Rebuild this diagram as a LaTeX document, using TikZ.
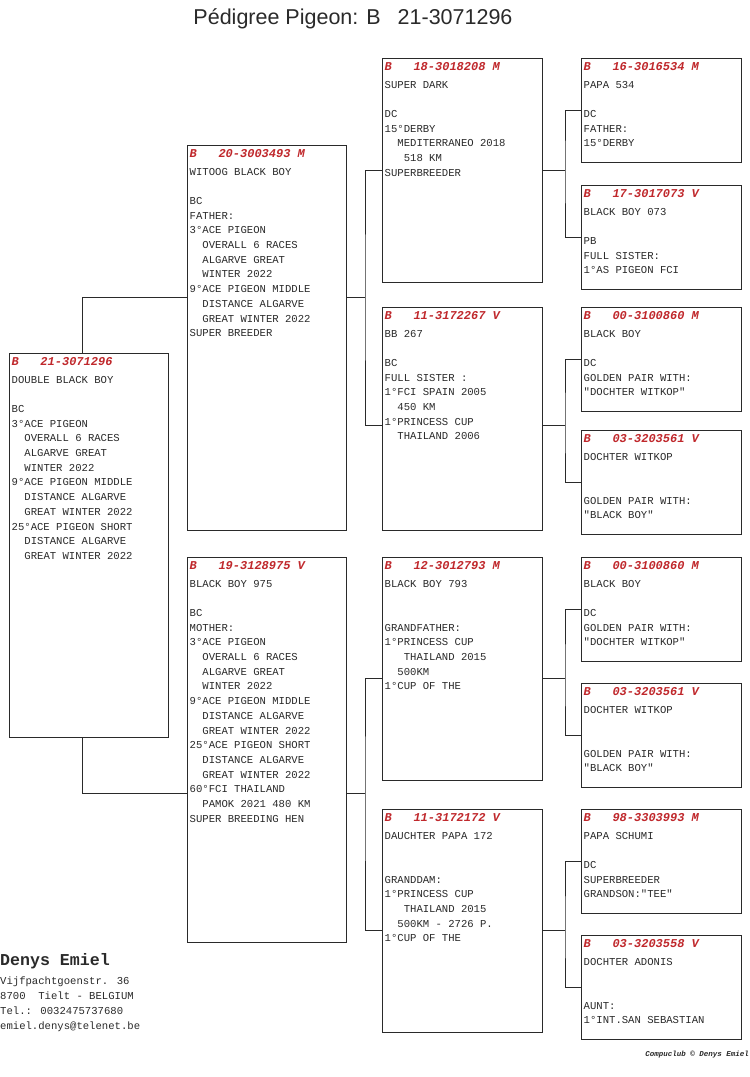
\documentclass[tikz,border=0pt]{standalone}
\usepackage{fontspec}
\setmainfont{Liberation Sans}
\newfontfamily\pmono{Liberation Mono}
\usetikzlibrary{calc}
\definecolor{hdr}{HTML}{C0282C}
\definecolor{ink}{HTML}{2A2A2A}
\newcommand\bodyfont{\pmono\fontsize{10.6}{14.7}\selectfont}
\newcommand\hdrfont{\pmono\bfseries\itshape\fontsize{12}{14}\selectfont}
\newcommand\iib{\mbox{}~~}
\newcommand\iiib{\mbox{}~~~}
\tikzset{
  boxst/.style={draw=ink, line width=0.8pt, rectangle, inner sep=0pt, outer sep=0pt, fill=white},
  hdrst/.style={anchor=base west, inner sep=0pt, font=\hdrfont, text=hdr},
  bodyst/.style={anchor=base west, inner sep=0pt, font=\bodyfont, text=ink},
  conn/.style={draw=ink, line width=0.8pt},
}
\newcommand\pigbox[7]{%
  \node[boxst, minimum width=#4, minimum height=#5, anchor=north west] (#1) at (#2,#3) {};
  \node[hdrst] (#1h) at ($(#1.north west)+(2.5,12)$) {#6};
  \node[bodyst] (#1t) at ($(#1.north west)+(2.5,30)$) {\parbox[t]{152pt}{#7}};
}
\begin{document}
\begin{tikzpicture}[x=1pt,y=-1pt]
\useasboundingbox (0,0) rectangle (750,1077);
\fill[white] (0,0) rectangle (750,1077);

\node[anchor=base, inner sep=0pt, font=\fontsize{21.5}{24}\selectfont, text=ink] (title) at (353,24) {Pédigree Pigeon: B\hspace{17pt}21-3071296};

% generation 1
\pigbox{s}{9}{353}{159}{384}{B~~~21-3071296}{DOUBLE BLACK BOY\\ \mbox{}\\ BC\\ 3°ACE PIGEON\\ \iib OVERALL 6 RACES\\ \iib ALGARVE GREAT\\ \iib WINTER 2022\\ 9°ACE PIGEON MIDDLE\\ \iib DISTANCE ALGARVE\\ \iib GREAT WINTER 2022\\ 25°ACE PIGEON SHORT\\ \iib DISTANCE ALGARVE\\ \iib GREAT WINTER 2022}

% generation 2
\pigbox{f}{187}{145}{159}{385}{B~~~20-3003493 M}{WITOOG BLACK BOY\\ \mbox{}\\ BC\\ FATHER:\\ 3°ACE PIGEON\\ \iib OVERALL 6 RACES\\ \iib ALGARVE GREAT\\ \iib WINTER 2022\\ 9°ACE PIGEON MIDDLE\\ \iib DISTANCE ALGARVE\\ \iib GREAT WINTER 2022\\ SUPER BREEDER}
\pigbox{m}{187}{557}{159}{385}{B~~~19-3128975 V}{BLACK BOY 975\\ \mbox{}\\ BC\\ MOTHER:\\ 3°ACE PIGEON\\ \iib OVERALL 6 RACES\\ \iib ALGARVE GREAT\\ \iib WINTER 2022\\ 9°ACE PIGEON MIDDLE\\ \iib DISTANCE ALGARVE\\ \iib GREAT WINTER 2022\\ 25°ACE PIGEON SHORT\\ \iib DISTANCE ALGARVE\\ \iib GREAT WINTER 2022\\ 60°FCI THAILAND\\ \iib PAMOK 2021 480 KM\\ SUPER BREEDING HEN}

% generation 3
\pigbox{ff}{382}{58}{160}{224}{B~~~18-3018208 M}{SUPER DARK\\ \mbox{}\\ DC\\ 15°DERBY\\ \iib MEDITERRANEO 2018\\ \iiib 518 KM\\ SUPERBREEDER}
\pigbox{fm}{382}{307}{160}{223}{B~~~11-3172267 V}{BB 267\\ \mbox{}\\ BC\\ FULL SISTER :\\ 1°FCI SPAIN 2005\\ \iib 450 KM\\ 1°PRINCESS CUP\\ \iib THAILAND 2006}
\pigbox{mf}{382}{557}{160}{223}{B~~~12-3012793 M}{BLACK BOY 793\\ \mbox{}\\ \mbox{}\\ GRANDFATHER:\\ 1°PRINCESS CUP\\ \iiib THAILAND 2015\\ \iib 500KM\\ 1°CUP OF THE}
\pigbox{mm}{382}{809}{160}{223}{B~~~11-3172172 V}{DAUCHTER PAPA 172\\ \mbox{}\\ \mbox{}\\ GRANDDAM:\\ 1°PRINCESS CUP\\ \iiib THAILAND 2015\\ \iib 500KM - 2726 P.\\ 1°CUP OF THE}

% generation 4
\pigbox{fff}{581}{58}{160}{104}{B~~~16-3016534 M}{PAPA 534\\ \mbox{}\\ DC\\ FATHER:\\ 15°DERBY}
\pigbox{ffm}{581}{185}{160}{104}{B~~~17-3017073 V}{BLACK BOY 073\\ \mbox{}\\ PB\\ FULL SISTER:\\ 1°AS PIGEON FCI}
\pigbox{fmf}{581}{307}{160}{104}{B~~~00-3100860 M}{BLACK BOY\\ \mbox{}\\ DC\\ GOLDEN PAIR WITH:\\ "DOCHTER WITKOP"}
\pigbox{fmm}{581}{430}{160}{104}{B~~~03-3203561 V}{DOCHTER WITKOP\\ \mbox{}\\ \mbox{}\\ GOLDEN PAIR WITH:\\ "BLACK BOY"}
\pigbox{mff}{581}{557}{160}{104}{B~~~00-3100860 M}{BLACK BOY\\ \mbox{}\\ DC\\ GOLDEN PAIR WITH:\\ "DOCHTER WITKOP"}
\pigbox{mfm}{581}{683}{160}{104}{B~~~03-3203561 V}{DOCHTER WITKOP\\ \mbox{}\\ \mbox{}\\ GOLDEN PAIR WITH:\\ "BLACK BOY"}
\pigbox{mmf}{581}{809}{160}{104}{B~~~98-3303993 M}{PAPA SCHUMI\\ \mbox{}\\ DC\\ SUPERBREEDER\\ GRANDSON:"TEE"}
\pigbox{mmm}{581}{935}{160}{104}{B~~~03-3203558 V}{DOCHTER ADONIS\\ \mbox{}\\ \mbox{}\\ AUNT:\\ 1°INT.SAN SEBASTIAN}

% connector points
\coordinate (sT) at ($(s.north west)+(73,0)$);
\coordinate (sB) at ($(s.south west)+(73,0)$);
\coordinate (fL) at ($(f.north west)+(0,152)$);
\coordinate (fR) at ($(f.north east)+(0,152)$);
\coordinate (mL) at ($(m.north west)+(0,236)$);
\coordinate (mR) at ($(m.north east)+(0,236)$);
\coordinate (ffL) at ($(ff.north west)+(0,112)$);
\coordinate (ffR) at ($(ff.north east)+(0,112)$);
\coordinate (fmL) at ($(fm.north west)+(0,118)$);
\coordinate (fmR) at ($(fm.north east)+(0,118)$);
\coordinate (mfL) at ($(mf.north west)+(0,121)$);
\coordinate (mfR) at ($(mf.north east)+(0,121)$);
\coordinate (mmL) at ($(mm.north west)+(0,121)$);
\coordinate (mmR) at ($(mm.north east)+(0,121)$);
\coordinate (fJ) at ($(fR)+(19,0)$);
\coordinate (mJ) at ($(mR)+(19,0)$);
\coordinate (ffJ) at ($(ffR)+(23,0)$);
\coordinate (fmJ) at ($(fmR)+(23,0)$);
\coordinate (mfJ) at ($(mfR)+(23,0)$);
\coordinate (mmJ) at ($(mmR)+(23,0)$);

% connectors
\draw[conn] (sT) |- (fL);
\draw[conn] (sB) |- (mL);
\draw[conn] (fR) -- (fJ);
\draw[conn] (ffL) -| (fJ) |- (fmL);
\draw[conn] (mR) -- (mJ);
\draw[conn] (mfL) -| (mJ) |- (mmL);
\draw[conn] (ffR) -- (ffJ);
\draw[conn] (fff.west) -| (ffJ) |- (ffm.west);
\draw[conn] (fmR) -- (fmJ);
\draw[conn] (fmf.west) -| (fmJ) |- (fmm.west);
\draw[conn] (mfR) -- (mfJ);
\draw[conn] (mff.west) -| (mfJ) |- (mfm.west);
\draw[conn] (mmR) -- (mmJ);
\draw[conn] (mmf.west) -| (mmJ) |- (mmm.west);

% footer
\node[anchor=base west, inner sep=0pt, font=\pmono\bfseries\fontsize{16.6}{18}\selectfont, text=ink] (owner) at (0,965) {Denys Emiel};
\node[anchor=base west, inner sep=0pt, font=\pmono\fontsize{10.6}{15}\selectfont, text=ink] (addr) at (0,984) {\parbox[t]{200pt}{Vijfpachtgoenstr. 36\\ 8700~~Tielt - BELGIUM\\ Tel.: 0032475737680\\ emiel.denys@telenet.be}};
\node[anchor=base east, inner sep=0pt, font=\pmono\bfseries\itshape\fontsize{7.5}{9}\selectfont, text=ink] (credit) at (749,1056) {Compuclub © Denys Emiel};
\end{tikzpicture}
\end{document}
